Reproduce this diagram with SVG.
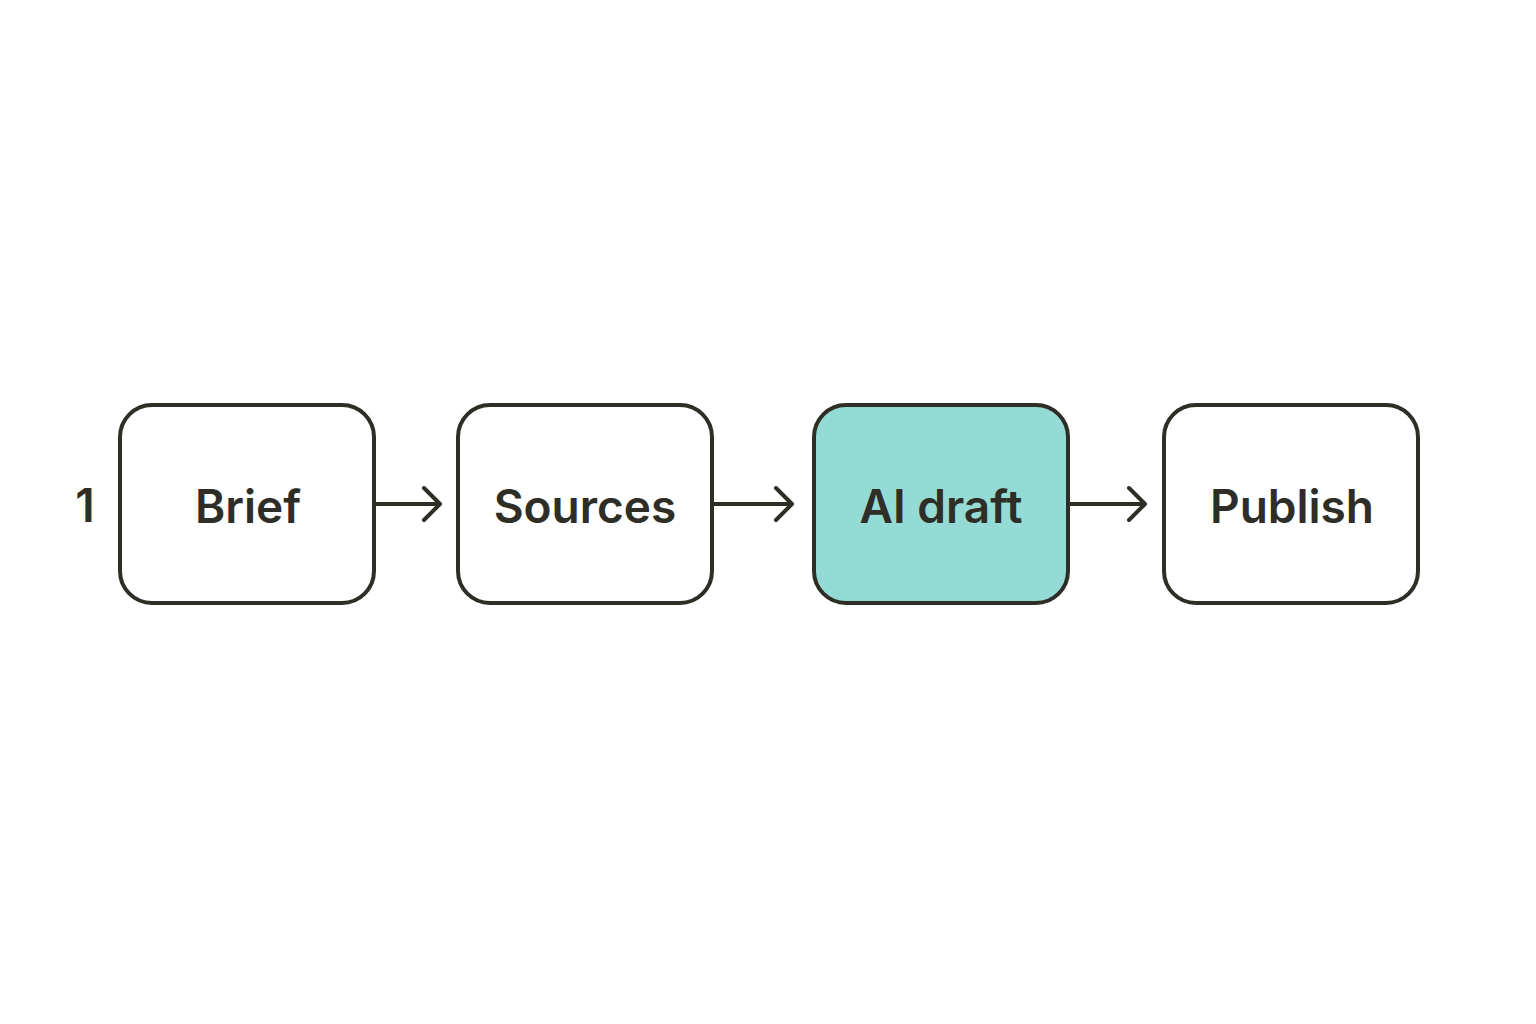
<svg xmlns="http://www.w3.org/2000/svg" width="1536" height="1024" viewBox="0 0 1536 1024">
<style>
.box{fill:#fff;stroke:#2e2e26;stroke-width:4}
.hl{fill:#95dbd5}
.lbl{font-family:Inter,"Liberation Sans",sans-serif;font-size:46px;font-weight:600;fill:#2e2e26;text-anchor:middle}
.ln{stroke:#2e2e26;stroke-width:4;fill:none;stroke-linecap:round;stroke-linejoin:round}
</style>
<rect width="1536" height="1024" fill="#fff"/>
<text x="85" y="522" class="lbl" font-weight="400">1</text>
<g id="brief"><rect x="120" y="405" width="254" height="198" rx="32" class="box"/><text x="248" y="523" class="lbl">Brief</text></g>
<g id="sources"><rect x="458" y="405" width="254" height="198" rx="32" class="box"/><text x="585" y="523" class="lbl">Sources</text></g>
<g id="aidraft"><rect x="814" y="405" width="254" height="198" rx="32" class="box hl"/><text x="941" y="523" class="lbl">AI draft</text></g>
<g id="publish"><rect x="1164" y="405" width="254" height="198" rx="32" class="box"/><text x="1292" y="523" class="lbl">Publish</text></g>
<g id="connectors">
<path class="ln" d="M374 504H440M424 488L440 504L424 520"/>
<path class="ln" d="M712 504H792M776 488L792 504L776 520"/>
<path class="ln" d="M1068 504H1145M1129 488L1145 504L1129 520"/>
</g>
</svg>
